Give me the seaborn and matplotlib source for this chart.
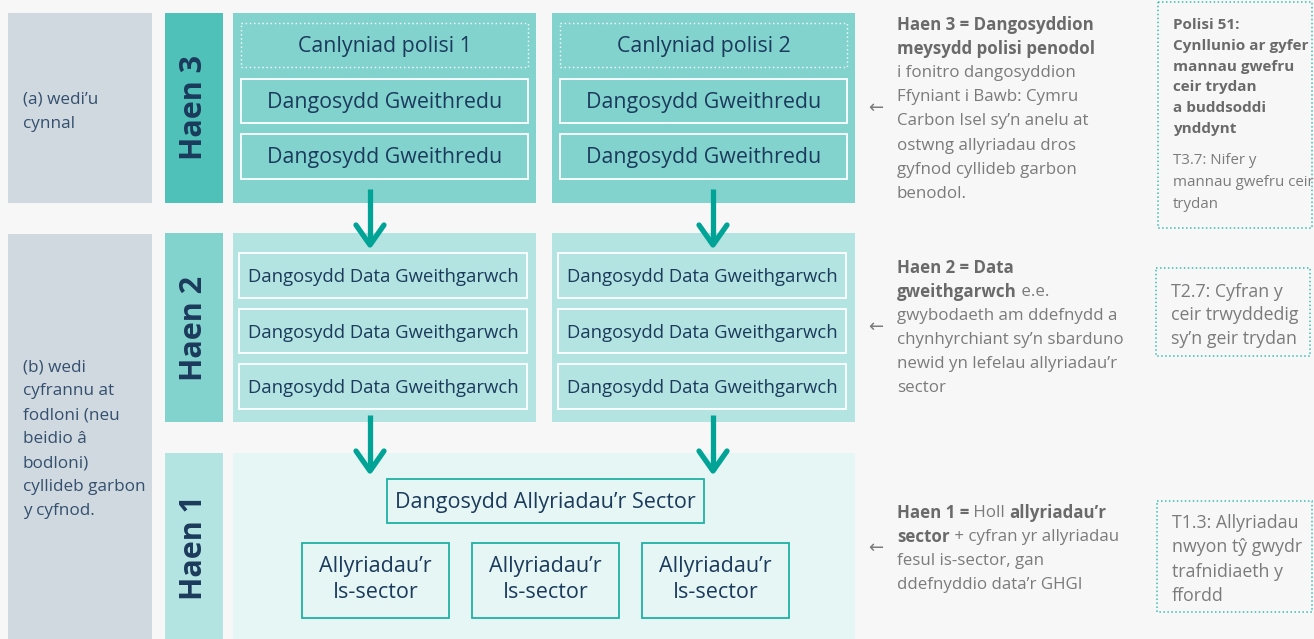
import matplotlib
matplotlib.use("Agg")
import matplotlib.pyplot as plt
from matplotlib.patches import Rectangle
import seaborn as sns

sns.set_theme(style="white")
plt.rcParams['font.family'] = ['Open Sans', 'DejaVu Sans']

# ---------------- data (texts) ----------------
tier_labels = ["Haen 3", "Haen 2", "Haen 1"]
outcome_labels = ["Canlyniad polisi 1", "Canlyniad polisi 2"]
tier3_indicators = ["Dangosydd Gweithredu", "Dangosydd Gweithredu"]
tier2_indicators = ["Dangosydd Data Gweithgarwch"] * 3
tier1_sector = "Dangosydd Allyriadau’r Sector"
tier1_subsectors = [["Allyriadau’r", "Is-sector"]] * 3
note_a = ["(a) wedi’u", "cynnal"]
note_b = ["(b) wedi", "cyfrannu at", "fodloni (neu", "beidio â", "bodloni)",
          "cyllideb garbon", "y cyfnod."]
desc_tier3 = [[("Haen 3 = Dangosyddion", True)],
              [("meysydd polisi penodol", True)],
              [("i fonitro dangosyddion", False)],
              [("Ffyniant i Bawb: Cymru", False)],
              [("Carbon Isel sy’n anelu at", False)],
              [("ostwng allyriadau dros", False)],
              [("gyfnod cyllideb garbon", False)],
              [("benodol.", False)]]
desc_tier2 = [[("Haen 2 = Data", True)],
              [("gweithgarwch", True), (" e.e.", False)],
              [("gwybodaeth am ddefnydd a", False)],
              [("chynhyrchiant sy’n sbarduno", False)],
              [("newid yn lefelau allyriadau’r", False)],
              [("sector", False)]]
desc_tier1 = [[("Haen 1 =", True), (" Holl ", False), ("allyriadau’r", True)],
              [("sector", True), (" + cyfran yr allyriadau", False)],
              [("fesul is-sector, gan", False)],
              [("ddefnyddio data’r GHGI", False)]]
policy_title = ["Polisi 51:", "Cynllunio ar gyfer", "mannau gwefru", "ceir trydan",
                "a buddsoddi", "ynddynt"]
example_t3 = ["T3.7: Nifer y", "mannau gwefru ceir", "trydan"]
example_t2 = ["T2.7: Cyfran y", "ceir trwyddedig", "sy’n geir trydan"]
example_t1 = ["T1.3: Allyriadau", "nwyon tŷ gwydr", "trafnidiaeth y", "ffordd"]

# ---------------- styles ----------------
BG = "#f7f7f7"
GREY_BOX = "#d0d8e0"
TIER_LABEL_C = ["#4fc1b9", "#82d3ce", "#b3e4e1"]
TIER_PANEL_C = ["#82d3ce", "#b3e4e1", "#e6f6f4"]
NAVY = "#1b3a5c"
LEFT_TXT = "#34506e"
TEAL = "#00a396"
TEAL_BORDER = "#1fb1a5"
DOT_TEAL = "#38bdb3"
GREY_TXT = "#7b7b7b"
GREY_BOLD = "#6a6a6a"
DY = 1.5  # small optical offset for centred box texts

W, H = 1314, 639
fig = plt.figure(figsize=(W / 100, H / 100), dpi=100, facecolor=BG)
ax = fig.add_axes([0, 0, 1, 1])
ax.set_xlim(0, W)
ax.set_ylim(H, 0)
ax.axis("off")
ax.set_facecolor(BG)
fig.canvas.draw()
R = fig.canvas.get_renderer()


def fit(sample, target, weight="normal"):
    t = ax.text(0, 0, sample, fontsize=10, fontweight=weight)
    w = t.get_window_extent(R).width
    t.remove()
    return 10 * target / w


fs_box3 = fit("Dangosydd Gweithredu", 235)
fs_box2 = fit("Dangosydd Data Gweithgarwch", 271)
fs_box1 = fit("Dangosydd Allyriadau’r Sector", 300)
fs_haen = fit("Haen 3", 105, "bold")
fs_desc = fit("chynhyrchiant sy’n sbarduno", 226)
fs_pol = fit("Cynllunio ar gyfer", 135, "bold")
fs_t3 = fit("mannau gwefru ceir", 140)
fs_tb = fit("T2.7: Cyfran y", 112)
fs_left = fit("cyllideb garbon", 122)


def rect(x0, y0, x1, y1, fc="none", ec="none", lw=0, ls="-", z=1):
    ax.add_patch(Rectangle((x0, y0), x1 - x0, y1 - y0, facecolor=fc, edgecolor=ec,
                           linewidth=lw, linestyle=ls, zorder=z))


def down_arrow(x, y0, y1):
    ax.plot([x, x], [y0, y1 - 2], color=TEAL, lw=3.8, solid_capstyle="butt", zorder=5)
    ax.plot([x - 14, x, x + 14], [y1 - 20, y1, y1 - 20], color=TEAL, lw=3.8,
            solid_capstyle="round", solid_joinstyle="round", zorder=5)


# left grey notes
rect(8, 13, 152, 203, fc=GREY_BOX)
rect(8, 234, 152, 639, fc=GREY_BOX)
for i, s in enumerate(note_a):
    ax.text(23, 100 + 24 * i, s, fontsize=fs_left, color=LEFT_TXT, va="center", ha="left")
for i, s in enumerate(note_b):
    ax.text(23, 367 + 24 * i, s, fontsize=fs_left, color=LEFT_TXT, va="center", ha="left")

# tier rows
rows = [(13, 203), (233, 422), (453, 639)]
centres = [108, 328, 548]
for k, (y0, y1) in enumerate(rows):
    rect(165, y0, 223, y1, fc=TIER_LABEL_C[k])
    ax.text(194, centres[k], tier_labels[k], rotation=90, fontsize=fs_haen,
            fontweight="bold", color=NAVY, ha="center", va="center")

panels_x = [(233, 536), (552, 855)]
# Tier 3 panels
for p, (x0, x1) in enumerate(panels_x):
    rect(x0, 13, x1, 203, fc=TIER_PANEL_C[0])
    bx0, bx1 = x0 + 8, x1 - 8
    rect(bx0, 23, bx1, 67, ec="white", lw=1.0, ls=(0, (1, 2)), z=2)
    ax.text((bx0 + bx1) / 2, 45 + DY, outcome_labels[p], fontsize=fs_box3, color=NAVY,
            ha="center", va="center", zorder=3)
    for j, (yy0, yy1) in enumerate([(79, 123), (134, 179)]):
        rect(bx0, yy0, bx1, yy1, ec="white", lw=1.3, z=2)
        ax.text((bx0 + bx1) / 2, (yy0 + yy1) / 2 + DY, tier3_indicators[j], fontsize=fs_box3,
                color=NAVY, ha="center", va="center", zorder=3)

# Tier 2 panels
for p, (x0, x1) in enumerate(panels_x):
    rect(x0, 233, x1, 422, fc=TIER_PANEL_C[1])
    bx0, bx1 = x0 + 6, x1 - 9
    for j, (yy0, yy1) in enumerate([(253, 298), (309, 353), (364, 409)]):
        rect(bx0, yy0, bx1, yy1, ec="white", lw=1.3, z=2)
        ax.text((bx0 + bx1) / 2, (yy0 + yy1) / 2 + DY, tier2_indicators[j], fontsize=fs_box2,
                color=NAVY, ha="center", va="center", zorder=3)

# Tier 1 panel
rect(233, 453, 855, 639, fc=TIER_PANEL_C[2])
rect(387, 479, 704, 523, ec=TEAL_BORDER, lw=1.3, z=2)
ax.text(545.5, 501 + DY, tier1_sector, fontsize=fs_box1, color=NAVY, ha="center",
        va="center", zorder=3)
for j, x0 in enumerate([302, 472, 642]):
    rect(x0, 543, x0 + 147, 618, ec=TEAL_BORDER, lw=1.3, z=2)
    for m, s in enumerate(tier1_subsectors[j]):
        ax.text(x0 + 73.5, 565 + DY + 26 * m, s, fontsize=fs_box1, color=NAVY,
                ha="center", va="center", zorder=3)

# arrows
for xa in [370, 713]:
    down_arrow(xa, 189, 245)
    down_arrow(xa, 415, 471)


def seg_line(x, y, segs, size):
    prev = None
    for txt, bold in segs:
        kw = dict(fontsize=size, fontweight="bold" if bold else "normal",
                  color=GREY_BOLD if bold else GREY_TXT, ha="left", va="center")
        if prev is None:
            prev = ax.text(x, y, txt, **kw)
        else:
            prev = ax.annotate(txt, xy=(1, 0.5), xycoords=prev, **kw)


for block, y0, ya in [(desc_tier3, 25, 108), (desc_tier2, 268, 327), (desc_tier1, 513, 548)]:
    for i, segs in enumerate(block):
        seg_line(897, y0 + 24.1 * i, segs, fs_desc)
    ax.text(876, ya, "←", fontsize=13, color=GREY_TXT, ha="center", va="center",
            family=["DejaVu Sans"])

# example boxes (dotted)
rect(1158, 2, 1312, 228, ec=DOT_TEAL, lw=1.1, ls=(0, (1, 1.6)))
for i, s in enumerate(policy_title):
    ax.text(1173, 25 + 20.8 * i, s, fontsize=fs_pol, fontweight="bold", color=GREY_BOLD,
            ha="left", va="center")
for i, s in enumerate(example_t3):
    ax.text(1173, 160 + 22 * i, s, fontsize=fs_t3, color=GREY_TXT, ha="left", va="center")

rect(1156, 268, 1310, 356, ec=DOT_TEAL, lw=1.1, ls=(0, (1, 1.6)))
for i, s in enumerate(example_t2):
    ax.text(1171, 292 + 23.5 * i, s, fontsize=fs_tb, color=GREY_TXT, ha="left", va="center")

rect(1157, 501, 1312, 612, ec=DOT_TEAL, lw=1.1, ls=(0, (1, 1.6)))
for i, s in enumerate(example_t1):
    ax.text(1172, 523 + 24.3 * i, s, fontsize=fs_tb, color=GREY_TXT, ha="left", va="center")

fig.savefig("out.png", dpi=100, facecolor=BG)
